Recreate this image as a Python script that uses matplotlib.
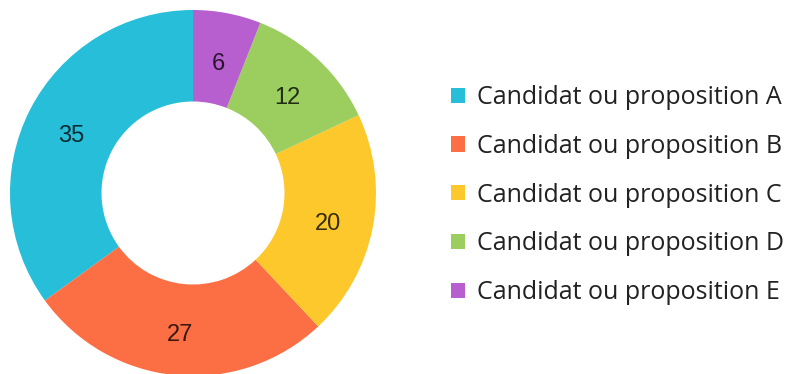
import matplotlib
matplotlib.use("Agg")
import matplotlib.pyplot as plt
from matplotlib.transforms import offset_copy

# Vote shares per option
labels = ["Candidat ou proposition A", "Candidat ou proposition B",
          "Candidat ou proposition C", "Candidat ou proposition D",
          "Candidat ou proposition E"]
values = [35, 27, 20, 12, 6]
colors = ["#26bed8", "#fc6e44", "#fdc82c", "#9bcd5f", "#b75fcf"]

W, H = 787, 374
fig = plt.figure(figsize=(W / 100, H / 100), dpi=100)

# Donut: centre (193, 193) px, outer radius 183 px
cx, cy, R = 193, 193, 183
ax = fig.add_axes([(cx - R) / W, (H - cy - R) / H, 2 * R / W, 2 * R / H])
wedges, texts = ax.pie(
    values, colors=colors, startangle=90, counterclock=True, radius=1.0,
    wedgeprops=dict(width=0.5, linewidth=0),
    labels=[str(v) for v in values], labeldistance=0.75,
    textprops=dict(fontsize=17, family="Liberation Sans",
                   color="black", alpha=0.78),
)
# value labels sit slightly below the ring's mid-line
shift = offset_copy(ax.transData, fig=fig, x=0, y=-3, units="dots")
for t in texts:
    t.set_ha("center")
    t.set_va("center_baseline")
    t.set_transform(shift)
ax.set_xlim(-1, 1)
ax.set_ylim(-1, 1)
ax.set_aspect("equal")
ax.axis("off")

leg = fig.legend(
    wedges, labels, loc="upper left", bbox_to_anchor=(451 / W, 1 - 85 / H),
    frameon=False, prop=dict(family="Open Sans", size=18),
    handlelength=0.56, handleheight=0.56, handletextpad=0.48,
    labelspacing=0.95, borderaxespad=0, borderpad=0,
)
for t in leg.get_texts():
    t.set_color("#222222")

fig.savefig("out.png", dpi=100, facecolor="white")
